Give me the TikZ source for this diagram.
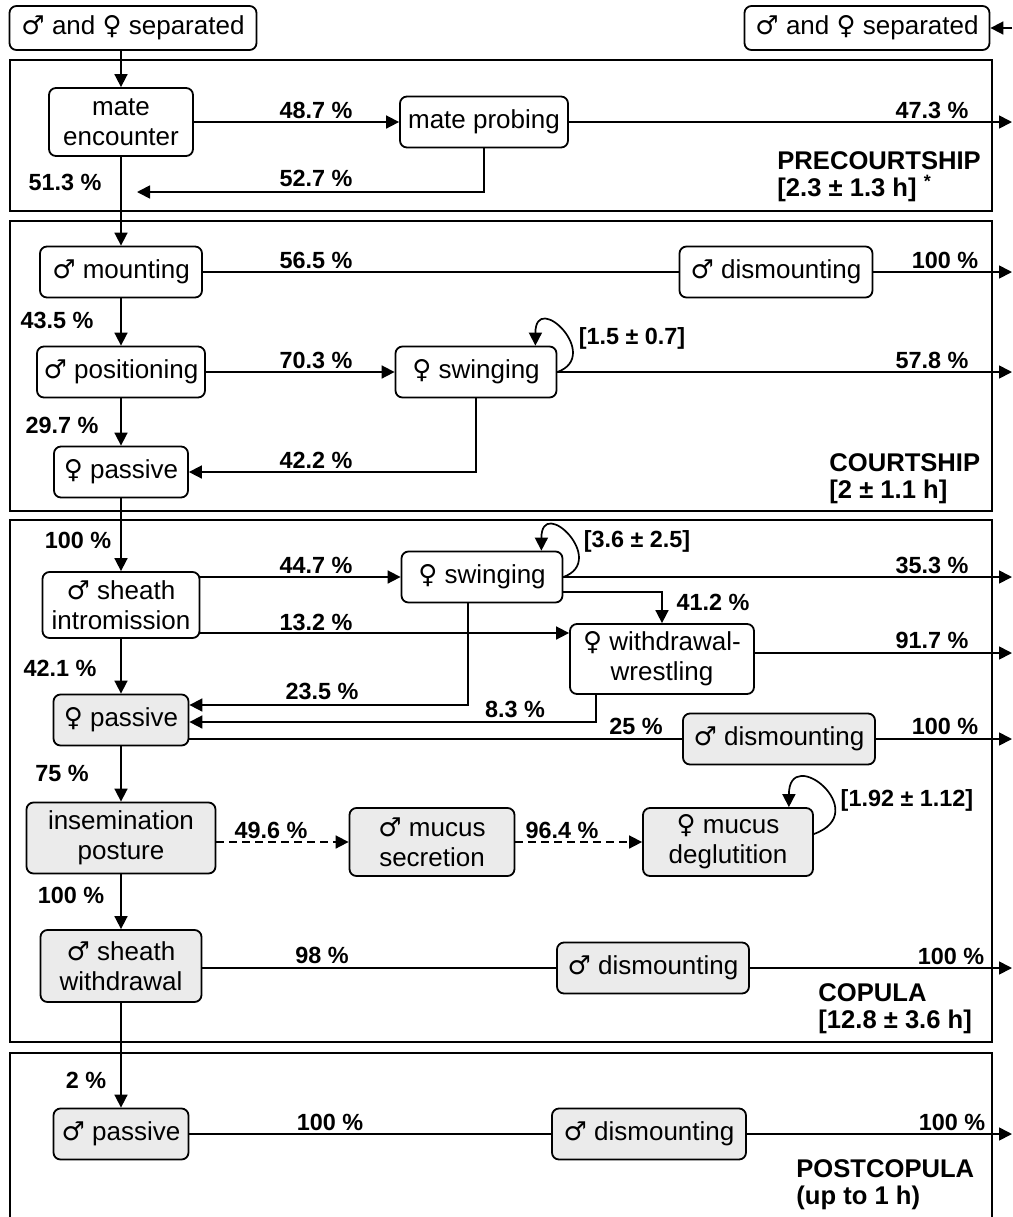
\documentclass[tikz,border=0pt]{standalone}
\usepackage{fontspec}
\setmainfont{Liberation Sans}
\newfontfamily\symfont{DejaVu Sans}
\usepackage{tikz}
\usetikzlibrary{arrows.meta,positioning,calc}
\definecolor{shade}{HTML}{EBEBEB}
\newcommand{\msym}{{\symfont ♂}}
\newcommand{\fsym}{{\symfont ♀}}
\newcommand{\boxfont}{\fontsize{13}{15}\selectfont}
\newcommand{\pctfont}{\bfseries\fontsize{11.7}{14}\selectfont}
\newcommand{\phasefont}{\bfseries\fontsize{12.8}{13.5}\selectfont}

\begin{document}
\begin{tikzpicture}[x=0.5pt, y=-0.5pt,
    >={Triangle[length=6.5pt,width=6.5pt]},
    behav/.style={draw, rounded corners=3.5pt, line width=0.9pt, inner xsep=2pt,
                  inner ysep=3pt, minimum height=25.5pt, align=center, font=\boxfont},
    behavg/.style={behav, fill=shade},
    pct/.style={font=\pctfont, inner sep=0pt},
    tag/.style={font=\phasefont, align=left, anchor=north west, inner sep=0pt},
    phase/.style={draw, line width=0.9pt},
    link/.style={line width=0.85pt},
    dashlink/.style={link, dash pattern=on 4pt off 2.5pt}]
  \clip (0,0) rectangle (1013,1217);
  \coordinate (rim) at (1012,0);

  % phases
  \draw[phase] (10,60) rectangle (992,211);
  \draw[phase] (10,221) rectangle (992,511);
  \draw[phase] (10,520) rectangle (992,1042);
  \draw[phase] (10,1053) rectangle (992,1240);
  \node[tag] (tpre) at (777,151) {PRECOURTSHIP\\{}[2.3 ± 1.3 h]~\textsuperscript{*}};
  \node[tag] (tcourt) at (829,453) {COURTSHIP\\{}[2 ± 1.1 h]};
  \node[tag] (tcop) at (818,983) {COPULA\\{}[12.8 ± 3.6 h]};
  \node[tag] (tpost) at (796,1159) {POSTCOPULA\\(up to 1 h)};

  % behaviours
  \node[behav, minimum width=123.5pt, minimum height=22pt] (sepL) at (133,28) {\msym{} and \fsym{} separated};
  \node[behav, minimum width=122.5pt, minimum height=22pt] (sepR) at (867,28) {\msym{} and \fsym{} separated};
  \node[behav, minimum width=72pt, minimum height=34pt] (enc) at (121,122) {mate\\encounter};
  \node[behav, minimum width=84pt] (probe) at (484,122) {mate probing};
  \node[behav, minimum width=81pt] (mount) at (121,272) {\msym{} mounting};
  \node[behav, minimum width=96.5pt] (dism1) at (776,272) {\msym{} dismounting};
  \node[behav, minimum width=84pt] (posit) at (121,372) {\msym{} positioning};
  \node[behav, minimum width=80.5pt] (swing1) at (476,372) {\fsym{} swinging};
  \node[behav, minimum width=67pt] (pass1) at (121,472) {\fsym{} passive};
  \node[behav, minimum width=78.5pt, minimum height=33pt] (intro) at (121,605) {\msym{} sheath\\intromission};
  \node[behav, minimum width=80.5pt] (swing2) at (482,577) {\fsym{} swinging};
  \node[behav, minimum width=92pt, minimum height=35pt] (wrest) at (662,659) {\fsym{} withdrawal-\\wrestling};
  \node[behavg, minimum width=67.5pt] (pass2) at (121,720) {\fsym{} passive};
  \node[behavg, minimum width=96pt] (dism2) at (779,739) {\msym{} dismounting};
  \node[behavg, minimum width=94.5pt, minimum height=35.5pt] (insem) at (121,838) {insemination\\posture};
  \node[behavg, minimum width=82.5pt, minimum height=34pt] (mucsec) at (432,842) {\msym{} mucus\\secretion};
  \node[behavg, minimum width=85pt, minimum height=34pt] (mucdeg) at (728,842) {\fsym{} mucus\\deglutition};
  \node[behavg, minimum width=80.5pt, minimum height=36pt] (swdraw) at (121,966) {\msym{} sheath\\withdrawal};
  \node[behavg, minimum width=96pt] (dism3) at (653,968) {\msym{} dismounting};
  \node[behavg, minimum width=67.5pt] (pass3) at (121,1134) {\msym{} passive};
  \node[behavg, minimum width=97pt] (dism4) at (649,1134) {\msym{} dismounting};

  % precourtship
  \draw[link,->] (rim |- sepR) -- (sepR);
  \draw[link,->] (sepL.south -| enc) -- (enc);
  \draw[link,->] (enc) -- (probe);
  \draw[link,->] (probe) -- (probe -| rim);
  \coordinate (back) at (137,192);
  \draw[link,->] (probe.south) |- (back);
  \draw[link,->] (enc) -- (mount);
  \node[pct] at (316,110) {48.7 \%};
  \node[pct] at (932,110) {47.3 \%};
  \node[pct] at (316,178) {52.7 \%};
  \node[pct] at (65,182) {51.3 \%};

  % courtship
  \draw[link] (mount) -- (dism1);
  \draw[link,->] (dism1) -- (dism1 -| rim);
  \draw[link,->] (mount) -- (posit);
  \draw[link,->] (posit) -- (swing1);
  \draw[link,->] (swing1) -- (swing1 -| rim);
  \draw[link,->] (swing1.east) .. controls +(20:24pt) and +(90:28pt) .. ([xshift=-11pt]swing1.north east);
  \draw[link,->] (posit) -- (pass1);
  \draw[link,->] (swing1.south) |- (pass1.east);
  \node[pct] at (316,260) {56.5 \%};
  \node[pct] at (945,260) {100 \%};
  \node[pct] at (57,320) {43.5 \%};
  \node[pct] at (316,360) {70.3 \%};
  \node[pct] at (632,338) {[1.5 ± 0.7]};
  \node[pct] at (932,360) {57.8 \%};
  \node[pct] at (62,425) {29.7 \%};
  \node[pct] at (316,460) {42.2 \%};

  % copula
  \draw[link,->] (pass1) -- (intro);
  \draw[link,->] (intro.east |- swing2.west) -- (swing2.west);
  \draw[link,->] (swing2) -- (swing2 -| rim);
  \draw[link,->] (swing2.east) .. controls +(20:24pt) and +(90:28pt) .. ([xshift=-11pt]swing2.north east);
  \draw[link,->] ([yshift=-7.5pt]swing2.east) -| (wrest.north);
  \coordinate (introlow) at ([yshift=-14pt]intro.east);
  \draw[link,->] (introlow) -- (introlow -| wrest.west);
  \coordinate (wresthi) at ([yshift=3pt]wrest.east);
  \draw[link,->] (wresthi) -- (wresthi -| rim);
  \draw[link,->] (intro) -- (pass2);
  \draw[link,->] ([xshift=-7pt]swing2.south) |- ([yshift=7.5pt]pass2.east);
  \draw[link,->] ([xshift=-33pt]wrest.south) |- ([yshift=-1pt]pass2.east);
  \draw[link] (pass2.east |- dism2.west) -- (dism2.west);
  \draw[link,->] (dism2) -- (dism2 -| rim);
  \draw[link,->] (pass2) -- (insem);
  \draw[dashlink,->] (insem.east |- mucsec.west) -- (mucsec.west);
  \draw[dashlink,->] (mucsec) -- (mucdeg);
  \draw[link,->] ([yshift=4pt]mucdeg.east) .. controls +(20:32pt) and +(90:32pt) .. ([xshift=-12.5pt]mucdeg.north east);
  \draw[link,->] (insem) -- (swdraw);
  \draw[link] (swdraw.east |- dism3.west) -- (dism3.west);
  \draw[link,->] (dism3) -- (dism3 -| rim);
  \node[pct] at (78,540) {100 \%};
  \node[pct] at (316,565) {44.7 \%};
  \node[pct] at (637,541) {[3.6 ± 2.5]};
  \node[pct] at (932,565) {35.3 \%};
  \node[pct] at (713,602) {41.2 \%};
  \node[pct] at (316,622) {13.2 \%};
  \node[pct] at (932,640) {91.7 \%};
  \node[pct] at (60,668) {42.1 \%};
  \node[pct] at (322,691) {23.5 \%};
  \node[pct] at (515,709) {8.3 \%};
  \node[pct] at (636,726) {25 \%};
  \node[pct] at (945,726) {100 \%};
  \node[pct] at (62,773) {75 \%};
  \node[pct] at (271,830) {49.6 \%};
  \node[pct] at (562,830) {96.4 \%};
  \node[pct] at (907,800) {[1.92 ± 1.12]};
  \node[pct] at (71,895) {100 \%};
  \node[pct] at (322,955) {98 \%};
  \node[pct] at (951,956) {100 \%};

  % postcopula
  \draw[link,->] (swdraw) -- (pass3);
  \draw[link] (pass3) -- (dism4);
  \draw[link,->] (dism4) -- (dism4 -| rim);
  \node[pct] at (86,1080) {2 \%};
  \node[pct] at (330,1122) {100 \%};
  \node[pct] at (952,1122) {100 \%};
\end{tikzpicture}
\end{document}
